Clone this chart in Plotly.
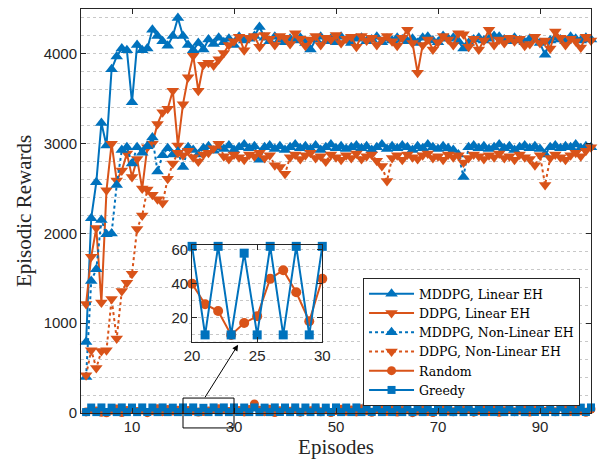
import plotly.graph_objects as go

episodes = list(range(1, 101))

mddpg_linear = [790, 2170, 2570, 3230, 2980, 3830, 3970, 4060, 4040, 3460,
                4100, 4040, 4060, 4270, 4200, 4140, 4090, 4200, 4400, 4200,
                4100, 4040, 4120, 4050, 4160, 4110, 4180, 4130, 4170, 4100,
                4190, 4150, 4170, 4200, 4300, 4180, 4140, 4190, 4160, 4130,
                4170, 4150, 4180, 4120, 4050, 4160, 4190, 4140, 4170, 4130,
                4190, 4150, 4120, 4170, 4180, 4140, 4160, 4190, 4130, 4170,
                4150, 4180, 4160, 4140, 4170, 4120, 4180, 4190, 4150, 4130,
                4200, 4170, 4180, 4140, 4060, 4120, 4160, 4180, 4150, 4170,
                4200, 4190, 4160, 4140, 4180, 4150, 4130, 4170, 4160, 4120,
                3990, 4150, 4180, 4160, 4140, 4190, 4170, 4150, 4180, 4160]

ddpg_linear = [1215, 1740, 2060, 1230, 2480, 3000, 2590, 2700, 2890, 2630,
               2830, 2500, 2960, 3000, 3220, 3350, 3390, 3590, 2980, 3440,
               3740, 3980, 3590, 3880, 3900, 3870, 3940, 4010, 4100, 4140,
               4190, 4040, 4180, 4200, 4080, 4210, 4170, 4100, 4200, 4180,
               4110, 4230, 4170, 4090, 4160, 4200, 4100, 4180, 4160, 4210,
               4120, 4170, 4190, 4080, 4200, 4150, 4180, 4100, 4160, 4200,
               4140, 4090, 4180, 4270, 4120, 3790, 4100, 4160, 4050, 4130,
               4200, 4160, 4100, 4230, 4220, 4080, 4170, 4050, 4150, 4270,
               4100, 4160, 4120, 4180, 4140, 4170, 4090, 4110, 4190, 4120,
               4150, 4060, 4250, 4180, 4100, 4170, 4140, 4070, 4190, 4150]

mddpg_nonlinear = [400, 1470, 1600, 2150, 1990, 2000, 2540, 2930, 2960, 2780,
                   2960, 2900, 2970, 3070, 2690, 2870, 2950, 2880, 2910, 2740,
                   2960, 2930, 2880, 2950, 2970, 2920, 2960, 2940, 2980, 2930,
                   2960, 2990, 2950, 2970, 2820, 2960, 2980, 2940, 2970, 2930,
                   2960, 2990, 2950, 2970, 2940, 2980, 2930, 2960, 2990, 2950,
                   2970, 2940, 2960, 2980, 2950, 2970, 2930, 2960, 2990, 2940,
                   2970, 2950, 2980, 2960, 2930, 2970, 2950, 2990, 2960, 2940,
                   2970, 2950, 2930, 2880, 2630, 2960, 2980, 2950, 2970, 2940,
                   2960, 2990, 2950, 2970, 2930, 2960, 2980, 2950, 2970, 2940,
                   2880, 2960, 2980, 2950, 2970, 2960, 2990, 2950, 2970, 2960]

ddpg_nonlinear = [420, 700, 500, 690, 700, 1270, 830, 1360, 1450, 1550,
                  2050, 2200, 2490, 2430, 2380, 2340, 2610, 2780, 2900, 2870,
                  2920, 2850, 2800, 2880, 2900, 2950, 3000, 2860, 2830, 2880,
                  2850, 2820, 2880, 2860, 2900, 2840, 2870, 2760, 2740, 2665,
                  2850, 2880, 2830, 2870, 2900, 2840, 2860, 2800, 2880, 2850,
                  2820, 2870, 2840, 2890, 2830, 2860, 2880, 2810, 2750, 2585,
                  2840, 2870, 2820, 2880, 2850, 2830, 2870, 2890, 2840, 2860,
                  2820, 2880, 2850, 2870, 2790, 2840, 2880, 2860, 2830, 2870,
                  2850, 2890, 2840, 2860, 2820, 2880, 2850, 2830, 2760, 2870,
                  2540, 2840, 2880, 2850, 2820, 2870, 2900, 2860, 2920, 2960]

random_policy = [12, 35, 22, 8, 3, 30, 45, 5, 28, 40,
                 18, 33, 4, 25, 48, 15, 38, 22, 30, 40,
                 28, 24, 10, 17, 21, 43, 48, 35, 18, 43,
                 27, 12, 38, 100, 30, 15, 42, 6, 26, 37,
                 19, 45, 9, 31, 24, 50, 14, 36, 5, 28,
                 41, 20, 33, 12, 47, 25, 8, 39, 30, 18,
                 44, 10, 27, 35, 4, 22, 49, 16, 6, 34,
                 40, 21, 13, 37, 29, 45, 9, 26, 32, 17,
                 43, 7, 24, 38, 15, 30, 46, 11, 27, 35,
                 20, 42, 14, 100, 31, 18, 39, 25, 8, 45]

greedy_policy = [10, 61, 10, 62, 11, 60, 10, 62, 10, 61,
                 10, 62, 11, 61, 10, 62, 10, 60, 10, 62,
                 10, 62, 10, 58, 10, 62, 10, 62, 10, 62,
                 11, 61, 10, 62, 10, 60, 10, 62, 11, 61,
                 10, 62, 10, 61, 10, 62, 10, 60, 11, 62,
                 10, 61, 10, 62, 10, 62, 11, 60, 10, 62,
                 10, 61, 10, 62, 10, 62, 10, 59, 11, 62,
                 10, 61, 10, 62, 10, 62, 11, 60, 10, 62,
                 10, 61, 10, 62, 10, 62, 10, 60, 11, 62,
                 10, 61, 10, 62, 10, 62, 10, 60, 11, 62]

inset_start, inset_end = 20, 30

x_ticks = [10, 30, 50, 70, 90]
y_ticks = [0, 1000, 2000, 3000, 4000]
inset_x_ticks = [20, 25, 30]
inset_y_ticks = [20, 40, 60]

BLUE = "#0072BD"
ORANGE = "#D95319"
AX = "#262626"
GRID = "#c8c8c8"
SERIF = "Liberation Serif"
SANS = "Liberation Sans"

fig = go.Figure()

series = [
    ("MDDPG, Linear EH", mddpg_linear, BLUE, "solid", "triangle-up"),
    ("DDPG, Linear EH", ddpg_linear, ORANGE, "solid", "triangle-down"),
    ("MDDPG, Non-Linear EH", mddpg_nonlinear, BLUE, "dot", "triangle-up"),
    ("DDPG, Non-Linear EH", ddpg_nonlinear, ORANGE, "dot", "triangle-down"),
]
for name, vals, col, dash, sym in series:
    fig.add_trace(go.Scatter(
        x=episodes, y=vals, name=name, mode="lines+markers",
        line=dict(color=col, width=2, dash=dash),
        marker=dict(symbol=sym, size=11, color=col, line=dict(width=0)),
        cliponaxis=False))

fig.add_trace(go.Scatter(
    x=episodes, y=random_policy, name="Random", mode="lines+markers",
    line=dict(color=ORANGE, width=2),
    marker=dict(symbol="circle", size=9, color=ORANGE, line=dict(width=0)),
    cliponaxis=False))
fig.add_trace(go.Scatter(
    x=episodes, y=greedy_policy, name="Greedy", mode="lines+markers",
    line=dict(color=BLUE, width=2),
    marker=dict(symbol="square", size=8, color=BLUE, line=dict(width=0)),
    cliponaxis=False))

# inset
ix = episodes[inset_start - 1:inset_end]
fig.add_trace(go.Scatter(
    x=ix, y=random_policy[inset_start - 1:inset_end], mode="lines+markers",
    line=dict(color=ORANGE, width=2), showlegend=False,
    marker=dict(symbol="circle", size=10, color=ORANGE, line=dict(width=0)),
    xaxis="x2", yaxis="y2", cliponaxis=False))
fig.add_trace(go.Scatter(
    x=ix, y=greedy_policy[inset_start - 1:inset_end], mode="lines+markers",
    line=dict(color=BLUE, width=2), showlegend=False,
    marker=dict(symbol="square", size=9, color=BLUE, line=dict(width=0)),
    xaxis="x2", yaxis="y2", cliponaxis=False))

axis_common = dict(showline=True, linecolor=AX, linewidth=1, mirror="ticks",
                   ticks="inside", tickcolor=AX, ticklen=5, zeroline=False,
                   tickfont=dict(family=SANS, size=15, color=AX))

fig.update_layout(
    width=604, height=464,
    margin=dict(l=81, r=9, t=5, b=51),
    paper_bgcolor="white", plot_bgcolor="white",
    xaxis=dict(range=[0, 100], tickvals=x_ticks, showgrid=False,
               title=dict(text="Episodes", font=dict(family=SERIF, size=21, color=AX), standoff=2),
               **axis_common),
    yaxis=dict(range=[0, 4500], tickvals=y_ticks, showgrid=True, gridcolor=GRID,
               griddash="dot", gridwidth=1,
               minor=dict(dtick=200, showgrid=True, gridcolor=GRID, griddash="dot", ticks=""),
               title=dict(text="Episodic Rewards", font=dict(family=SERIF, size=21, color=AX), standoff=6),
               **axis_common),
    xaxis2=dict(domain=[0.2178, 0.4731], anchor="y2", range=[20, 30],
                tickvals=inset_x_ticks, showgrid=False, **axis_common),
    yaxis2=dict(domain=[0.1765, 0.4167], anchor="x2", range=[6, 63],
                tickvals=inset_y_ticks, showgrid=True, gridcolor=GRID, griddash="dot",
                minor=dict(dtick=10, showgrid=True, gridcolor=GRID, griddash="dot", ticks=""),
                **axis_common),
    legend=dict(x=0.553, y=0.334, xanchor="left", yanchor="top",
                bgcolor="white", bordercolor=AX, borderwidth=1,
                font=dict(family="DejaVu Serif", size=12.5, color="black"),
                itemwidth=45, tracegroupgap=0),
    showlegend=True,
)

fig.add_shape(type="rect", xref="x", yref="paper", x0=inset_start, x1=inset_end,
              y0=-0.037, y1=0.037, line=dict(color="black", width=1))
fig.add_annotation(x=30.8, y=760, xref="x", yref="y", ax=-34, ay=54,
                   showarrow=True, arrowhead=2, arrowsize=1.2, arrowwidth=1,
                   arrowcolor="black", text="")

fig.write_html("out.html")
